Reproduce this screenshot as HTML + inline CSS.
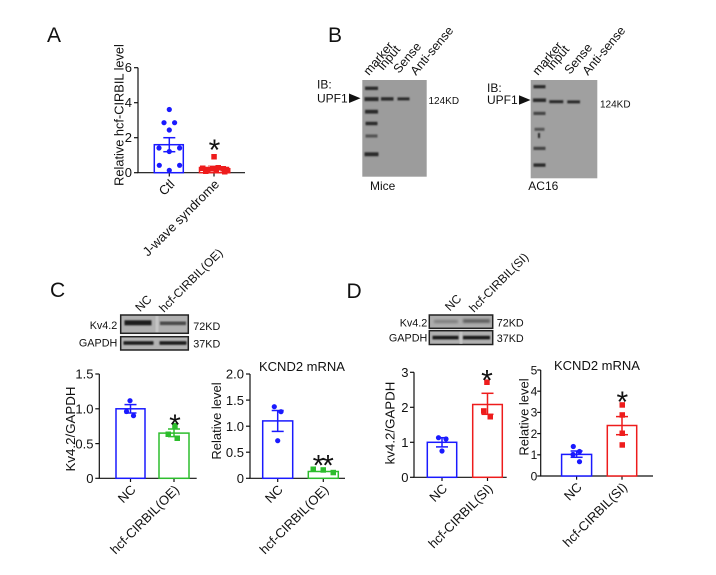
<!DOCTYPE html>
<html><head><meta charset="utf-8"><style>
html,body{margin:0;padding:0;background:#fff;}
svg{display:block;}
text{font-family:"Liberation Sans",Arial,sans-serif;fill:#111;}
</style></head><body>
<svg width="716" height="575" viewBox="0 0 716 575" xmlns="http://www.w3.org/2000/svg">
<defs>
<filter id="bl" x="-30%" y="-100%" width="160%" height="300%"><feGaussianBlur stdDeviation="0.9"/></filter>
<filter id="bl2" x="-30%" y="-100%" width="160%" height="300%"><feGaussianBlur stdDeviation="1.3"/></filter>
</defs>
<rect width="716" height="575" fill="#fff"/>

<!-- Panel letters -->
<text x="47" y="42" font-size="21">A</text>
<text x="328" y="42" font-size="21">B</text>
<text x="50" y="297" font-size="21">C</text>
<text x="346.5" y="298" font-size="21">D</text>

<!-- ============ Panel A ============ -->
<g stroke="#111" stroke-width="1.2" fill="none">
  <line x1="138" y1="67.7" x2="138" y2="172.7"/>
  <line x1="137.4" y1="172.7" x2="245" y2="172.7"/>
  <line x1="134" y1="67.7" x2="138" y2="67.7"/>
  <line x1="134" y1="102.7" x2="138" y2="102.7"/>
  <line x1="134" y1="137.7" x2="138" y2="137.7"/>
  <line x1="134" y1="172.7" x2="138" y2="172.7"/>
  <line x1="169.3" y1="172.7" x2="169.3" y2="176.5"/>
  <line x1="214" y1="172.7" x2="214" y2="176.5"/>
</g>
<g font-size="13" text-anchor="end">
  <text x="132" y="72.2">6</text>
  <text x="132" y="107.2">4</text>
  <text x="132" y="142.2">2</text>
  <text x="132" y="177.2">0</text>
</g>
<text transform="translate(123.5,115) rotate(-90)" font-size="12.8" text-anchor="middle">Relative hcf-CIRBIL level</text>
<rect x="154.3" y="144.7" width="29" height="28" fill="#fff" stroke="#1a1aff" stroke-width="1.5"/>
<g stroke="#1a1aff" stroke-width="1.5">
  <line x1="169.3" y1="137.7" x2="169.3" y2="151.7"/>
  <line x1="163.3" y1="137.7" x2="175.3" y2="137.7"/>
  <line x1="163.3" y1="151.7" x2="175.3" y2="151.7"/>
</g>
<g fill="#1a1aff">
  <circle cx="169.3" cy="109.5" r="2.6"/>
  <circle cx="164" cy="122.7" r="2.6"/>
  <circle cx="174.6" cy="122.7" r="2.6"/>
  <circle cx="169.3" cy="130" r="2.6"/>
  <circle cx="159" cy="148" r="2.6"/>
  <circle cx="179.6" cy="148" r="2.6"/>
  <circle cx="169.3" cy="151.5" r="2.6"/>
  <circle cx="159.3" cy="165.3" r="2.6"/>
  <circle cx="179.6" cy="165.3" r="2.6"/>
  <circle cx="169.3" cy="170.3" r="2.6"/>
</g>
<rect x="199.5" y="167.5" width="29" height="5.2" fill="#fff" stroke="#ee1c1c" stroke-width="1.5"/>
<g stroke="#f08080" stroke-width="1.3">
  <line x1="208" y1="166" x2="220" y2="166"/>
</g>
<g fill="#ee1c1c">
  <rect x="211.3" y="154" width="5.5" height="5.5"/>
  <rect x="200" y="165.5" width="5.5" height="5.5"/>
  <rect x="205" y="167" width="5.5" height="5.5"/>
  <rect x="210" y="166" width="5.5" height="5.5"/>
  <rect x="215.5" y="165" width="5.5" height="5.5"/>
  <rect x="220.5" y="166" width="5.5" height="5.5"/>
  <rect x="225" y="168" width="5.5" height="5.5"/>
  <rect x="203" y="168.5" width="5.5" height="5.5"/>
  <rect x="213.5" y="168" width="5.5" height="5.5"/>
  <rect x="222" y="169" width="5.5" height="5.5"/>
</g>
<text x="214.5" y="160" font-size="30" text-anchor="middle">*</text>
<g font-size="13" text-anchor="end">
  <text transform="translate(175.3,185) rotate(-45)">Ctl</text>
  <text transform="translate(220,185) rotate(-45)">J-wave syndrome</text>
</g>

<!-- ============ Panel B ============ -->
<!-- Gel 1 -->
<rect x="362.3" y="80" width="64.4" height="96.7" fill="#9c9c9c"/>
<g fill="#2a2a2a" filter="url(#bl)">
  <rect x="365" y="86.6" width="13" height="3.4"/>
  <rect x="364.5" y="97.1" width="14" height="4"/>
  <rect x="365" y="109.8" width="13" height="3.8"/>
  <rect x="365.5" y="121.8" width="12" height="3.4"/>
  <rect x="365.5" y="134.4" width="12" height="3.2" fill="#555"/>
  <rect x="364.5" y="152.3" width="14" height="3.9"/>
  <rect x="381" y="97.2" width="12.5" height="3.4"/>
  <rect x="397.5" y="97.4" width="12" height="3"/>
</g>
<g font-size="12.5">
  <text transform="translate(369,76) rotate(-50)">marker</text>
  <text transform="translate(383,71) rotate(-50)">Input</text>
  <text transform="translate(399,74) rotate(-50)">Sense</text>
  <text transform="translate(416,76) rotate(-50)">Anti-sense</text>
</g>
<text x="317" y="88.5" font-size="12">IB:</text>
<text x="317" y="102.5" font-size="12">UPF1</text>
<polygon points="349,93.5 349,103 360.5,98.3" fill="#111"/>
<text x="428.5" y="104" font-size="10">124KD</text>
<text x="370" y="190" font-size="12">Mice</text>

<!-- Gel 2 -->
<rect x="530.7" y="80" width="66.6" height="98.3" fill="#a0a0a0"/>
<g fill="#2a2a2a" filter="url(#bl)">
  <rect x="533.5" y="85.1" width="12" height="3.2"/>
  <rect x="533" y="98.4" width="13" height="3.6"/>
  <rect x="533.5" y="111.8" width="12" height="3.2" fill="#444"/>
  <rect x="534.5" y="127.8" width="10" height="3" fill="#555"/>
  <rect x="538" y="133" width="2" height="5" fill="#222"/>
  <rect x="533.5" y="146.8" width="12" height="3.2" fill="#444"/>
  <rect x="533.5" y="163.4" width="12" height="3.4"/>
  <rect x="549.3" y="100.2" width="14" height="3"/>
  <rect x="567.3" y="100.4" width="12.7" height="3"/>
</g>
<g font-size="12.5">
  <text transform="translate(538,76) rotate(-50)">marker</text>
  <text transform="translate(552,71) rotate(-50)">Input</text>
  <text transform="translate(570,75) rotate(-50)">Sense</text>
  <text transform="translate(588,76) rotate(-50)">Anti-sense</text>
</g>
<text x="487" y="92" font-size="12">IB:</text>
<text x="487" y="104" font-size="12">UPF1</text>
<polygon points="519,95.3 519,104.8 530.5,100" fill="#111"/>
<text x="600" y="107.5" font-size="10">124KD</text>
<text x="528.3" y="190" font-size="12">AC16</text>

<!-- ============ Panel C ============ -->
<text transform="translate(146.3,306.3) rotate(-45)" font-size="12" text-anchor="middle">NC</text>
<text transform="translate(164,313) rotate(-45)" font-size="12">hcf-CIRBIL(OE)</text>
<rect x="120.7" y="315" width="67.6" height="18.3" fill="#b0b0b0" stroke="#222" stroke-width="1.5"/>
<rect x="155.5" y="316" width="3" height="16.3" fill="#c4c4c4"/>
<rect x="120.7" y="336.7" width="67.6" height="13.3" fill="#b3b3b3" stroke="#222" stroke-width="1.5"/>
<g filter="url(#bl)">
  <rect x="124.5" y="320.3" width="27" height="5" fill="#1a1a1a"/>
  <rect x="160" y="321.5" width="26" height="3.6" fill="#4a4a4a"/>
  <rect x="123.5" y="341.2" width="30" height="3.6" fill="#1c1c1c"/>
  <rect x="159.5" y="341.2" width="27" height="3.6" fill="#1c1c1c"/>
</g>
<g font-size="10.8">
  <text x="117.3" y="329" text-anchor="end">Kv4.2</text>
  <text x="117.3" y="346.7" text-anchor="end">GAPDH</text>
  <text x="193.3" y="330">72KD</text>
  <text x="193.3" y="347.5">37KD</text>
</g>

<!-- C chart 1 -->
<g stroke="#111" stroke-width="1.2" fill="none">
  <line x1="99.3" y1="374" x2="99.3" y2="478.3"/>
  <line x1="98.7" y1="478.3" x2="196.7" y2="478.3"/>
  <line x1="95.3" y1="374" x2="99.3" y2="374"/>
  <line x1="95.3" y1="408.8" x2="99.3" y2="408.8"/>
  <line x1="95.3" y1="443.6" x2="99.3" y2="443.6"/>
  <line x1="95.3" y1="478.3" x2="99.3" y2="478.3"/>
  <line x1="130.5" y1="478.3" x2="130.5" y2="482"/>
  <line x1="174" y1="478.3" x2="174" y2="482"/>
</g>
<g font-size="13" text-anchor="end">
  <text x="93.5" y="378.7">1.5</text>
  <text x="93.5" y="413.5">1.0</text>
  <text x="93.5" y="448.3">0.5</text>
  <text x="93.5" y="483">0</text>
</g>
<text transform="translate(75,429) rotate(-90)" font-size="13.3" text-anchor="middle">Kv4.2/GAPDH</text>
<rect x="116" y="408.8" width="29" height="69.5" fill="#fff" stroke="#1a1aff" stroke-width="1.5"/>
<g stroke="#1a1aff" stroke-width="1.5">
  <line x1="130.5" y1="404.6" x2="130.5" y2="413"/>
  <line x1="124.5" y1="404.6" x2="136.5" y2="404.6"/>
  <line x1="124.5" y1="413" x2="136.5" y2="413"/>
</g>
<g fill="#1a1aff">
  <circle cx="130" cy="400.7" r="2.6"/>
  <circle cx="126.5" cy="411.5" r="2.6"/>
  <circle cx="133.5" cy="415.7" r="2.6"/>
</g>
<rect x="159" y="433.1" width="30" height="45.2" fill="#fff" stroke="#2dbd2d" stroke-width="1.5"/>
<g stroke="#2dbd2d" stroke-width="1.5">
  <line x1="174" y1="429" x2="174" y2="436.6"/>
  <line x1="168" y1="429" x2="180" y2="429"/>
  <line x1="168" y1="436.6" x2="180" y2="436.6"/>
</g>
<g fill="#2dbd2d">
  <rect x="172.2" y="423" width="5.5" height="5.5"/>
  <rect x="165.5" y="431.5" width="5.5" height="5.5"/>
  <rect x="174.5" y="435.5" width="5.5" height="5.5"/>
</g>
<text x="175" y="435" font-size="30" text-anchor="middle">*</text>
<g font-size="13" text-anchor="end">
  <text transform="translate(136.5,490.5) rotate(-45)">NC</text>
  <text transform="translate(180,490.5) rotate(-45)">hcf-CIRBIL(OE)</text>
</g>

<!-- C chart 2 -->
<text x="259" y="371" font-size="13">KCND2 mRNA</text>
<g stroke="#111" stroke-width="1.2" fill="none">
  <line x1="250" y1="374" x2="250" y2="478.3"/>
  <line x1="249.4" y1="478.3" x2="345" y2="478.3"/>
  <line x1="246" y1="374" x2="250" y2="374"/>
  <line x1="246" y1="400.1" x2="250" y2="400.1"/>
  <line x1="246" y1="426.2" x2="250" y2="426.2"/>
  <line x1="246" y1="452.2" x2="250" y2="452.2"/>
  <line x1="246" y1="478.3" x2="250" y2="478.3"/>
  <line x1="277.7" y1="478.3" x2="277.7" y2="482"/>
  <line x1="323.3" y1="478.3" x2="323.3" y2="482"/>
</g>
<g font-size="13" text-anchor="end">
  <text x="244" y="378.7">2.0</text>
  <text x="244" y="404.8">1.5</text>
  <text x="244" y="430.9">1.0</text>
  <text x="244" y="456.9">0.5</text>
  <text x="244" y="483">0</text>
</g>
<text transform="translate(221,421) rotate(-90)" font-size="13" text-anchor="middle">Relative level</text>
<rect x="262.7" y="420.9" width="30" height="57.4" fill="#fff" stroke="#1a1aff" stroke-width="1.5"/>
<g stroke="#1a1aff" stroke-width="1.5">
  <line x1="277.7" y1="410.5" x2="277.7" y2="431.4"/>
  <line x1="271.7" y1="410.5" x2="283.7" y2="410.5"/>
  <line x1="271.7" y1="431.4" x2="283.7" y2="431.4"/>
</g>
<g fill="#1a1aff">
  <circle cx="274.3" cy="406.7" r="2.6"/>
  <circle cx="281" cy="411.7" r="2.6"/>
  <circle cx="277.7" cy="440.7" r="2.6"/>
</g>
<rect x="308.3" y="471.5" width="30" height="6.8" fill="#fff" stroke="#2dbd2d" stroke-width="1.5"/>
<g fill="#2dbd2d">
  <rect x="310.5" y="466.5" width="5.5" height="5.5"/>
  <rect x="320.5" y="467.2" width="5.5" height="5.5"/>
  <rect x="330.5" y="469.8" width="5.5" height="5.5"/>
</g>
<text x="318.5" y="475.5" font-size="30" text-anchor="middle">*</text>
<text x="328" y="475.5" font-size="30" text-anchor="middle">*</text>
<g font-size="13" text-anchor="end">
  <text transform="translate(283.7,490.5) rotate(-45)">NC</text>
  <text transform="translate(329.3,490.5) rotate(-45)">hcf-CIRBIL(OE)</text>
</g>

<!-- ============ Panel D ============ -->
<text transform="translate(456,305.5) rotate(-45)" font-size="12" text-anchor="middle">NC</text>
<text transform="translate(474,313) rotate(-45)" font-size="12">hcf-CIRBIL(SI)</text>
<rect x="429.3" y="315" width="63.4" height="13.3" fill="#adadad" stroke="#222" stroke-width="1.5"/>
<rect x="429.3" y="330.7" width="63.4" height="13.8" fill="#b0b0b0" stroke="#222" stroke-width="1.5"/>
<rect x="459.5" y="331.5" width="3" height="12.3" fill="#c2c2c2"/>
<g filter="url(#bl2)">
  <rect x="434" y="320" width="24" height="3" fill="#7a7a7a"/>
  <rect x="463" y="319.3" width="27" height="3.4" fill="#555"/>
</g>
<g filter="url(#bl)">
  <rect x="432.5" y="335.8" width="26" height="3.6" fill="#1c1c1c"/>
  <rect x="463" y="335.8" width="27" height="3.6" fill="#1c1c1c"/>
</g>
<g font-size="10.8">
  <text x="427.3" y="326.5" text-anchor="end">Kv4.2</text>
  <text x="427.3" y="341.5" text-anchor="end">GAPDH</text>
  <text x="496.7" y="326.5">72KD</text>
  <text x="496.7" y="342">37KD</text>
</g>

<!-- D chart 1 -->
<g stroke="#111" stroke-width="1.2" fill="none">
  <line x1="414" y1="372.3" x2="414" y2="477.3"/>
  <line x1="413.4" y1="477.3" x2="506.7" y2="477.3"/>
  <line x1="410" y1="372.3" x2="414" y2="372.3"/>
  <line x1="410" y1="407.3" x2="414" y2="407.3"/>
  <line x1="410" y1="442.3" x2="414" y2="442.3"/>
  <line x1="410" y1="477.3" x2="414" y2="477.3"/>
  <line x1="442" y1="477.3" x2="442" y2="481"/>
  <line x1="487.5" y1="477.3" x2="487.5" y2="481"/>
</g>
<g font-size="13" text-anchor="end">
  <text x="408.5" y="377">3</text>
  <text x="408.5" y="412">2</text>
  <text x="408.5" y="447">1</text>
  <text x="408.5" y="482">0</text>
</g>
<text transform="translate(394.5,423) rotate(-90)" font-size="13.3" text-anchor="middle">kv4.2/GAPDH</text>
<rect x="427.3" y="442.3" width="29.4" height="35" fill="#fff" stroke="#1a1aff" stroke-width="1.5"/>
<g stroke="#1a1aff" stroke-width="1.5">
  <line x1="442" y1="437.7" x2="442" y2="446.9"/>
  <line x1="436" y1="437.7" x2="448" y2="437.7"/>
  <line x1="436" y1="446.9" x2="448" y2="446.9"/>
</g>
<g fill="#1a1aff">
  <circle cx="438.5" cy="437.7" r="2.6"/>
  <circle cx="446" cy="439" r="2.6"/>
  <circle cx="442" cy="451" r="2.6"/>
</g>
<rect x="472.7" y="404.5" width="29.6" height="72.8" fill="#fff" stroke="#ee1c1c" stroke-width="1.5"/>
<g stroke="#ee1c1c" stroke-width="1.5">
  <line x1="487.5" y1="393.3" x2="487.5" y2="414.3"/>
  <line x1="481.5" y1="393.3" x2="493.5" y2="393.3"/>
  <line x1="481.5" y1="414.3" x2="493.5" y2="414.3"/>
</g>
<g fill="#ee1c1c">
  <rect x="484.2" y="379.5" width="5.5" height="5.5"/>
  <rect x="481" y="408.2" width="5.5" height="5.5"/>
  <rect x="487.5" y="414" width="5.5" height="5.5"/>
</g>
<text x="487" y="390.5" font-size="30" text-anchor="middle">*</text>
<g font-size="13" text-anchor="end">
  <text transform="translate(448,489.3) rotate(-45)">NC</text>
  <text transform="translate(493.5,489.3) rotate(-45)">hcf-CIRBIL(SI)</text>
</g>

<!-- D chart 2 -->
<text x="554" y="370" font-size="13">KCND2 mRNA</text>
<g stroke="#111" stroke-width="1.2" fill="none">
  <line x1="540.7" y1="370" x2="540.7" y2="476"/>
  <line x1="540.1" y1="476" x2="653" y2="476"/>
  <line x1="537.2" y1="370" x2="540.7" y2="370"/>
  <line x1="537.2" y1="391.2" x2="540.7" y2="391.2"/>
  <line x1="537.2" y1="412.4" x2="540.7" y2="412.4"/>
  <line x1="537.2" y1="433.6" x2="540.7" y2="433.6"/>
  <line x1="537.2" y1="454.8" x2="540.7" y2="454.8"/>
  <line x1="537.2" y1="476" x2="540.7" y2="476"/>
  <line x1="576.6" y1="476" x2="576.6" y2="479.7"/>
  <line x1="622" y1="476" x2="622" y2="479.7"/>
</g>
<g font-size="12" text-anchor="end">
  <text x="537.3" y="374.3">5</text>
  <text x="537.3" y="395.5">4</text>
  <text x="537.3" y="416.7">3</text>
  <text x="537.3" y="437.9">2</text>
  <text x="537.3" y="459.1">1</text>
  <text x="537.3" y="480.3">0</text>
</g>
<text transform="translate(528.5,417) rotate(-90)" font-size="13" text-anchor="middle">Relative level</text>
<rect x="561.6" y="454.4" width="30" height="21.6" fill="#fff" stroke="#1a1aff" stroke-width="1.5"/>
<g stroke="#1a1aff" stroke-width="1.5">
  <line x1="576.6" y1="451" x2="576.6" y2="457.3"/>
  <line x1="570.6" y1="451" x2="582.6" y2="451"/>
  <line x1="570.6" y1="457.3" x2="582.6" y2="457.3"/>
</g>
<g fill="#1a1aff">
  <circle cx="573.3" cy="446.5" r="2.6"/>
  <circle cx="579.5" cy="451.5" r="2.6"/>
  <circle cx="573" cy="454.5" r="2.6"/>
  <circle cx="579.5" cy="461.7" r="2.6"/>
</g>
<rect x="607.3" y="425.5" width="29.4" height="50.5" fill="#fff" stroke="#ee1c1c" stroke-width="1.5"/>
<g stroke="#ee1c1c" stroke-width="1.5">
  <line x1="622" y1="416.6" x2="622" y2="434.7"/>
  <line x1="616" y1="416.6" x2="628" y2="416.6"/>
  <line x1="616" y1="434.7" x2="628" y2="434.7"/>
</g>
<g fill="#ee1c1c">
  <rect x="619.5" y="402.2" width="5.5" height="5.5"/>
  <rect x="619.5" y="412.2" width="5.5" height="5.5"/>
  <rect x="619.5" y="430.5" width="5.5" height="5.5"/>
  <rect x="619.5" y="442.2" width="5.5" height="5.5"/>
</g>
<text x="622.3" y="412" font-size="30" text-anchor="middle">*</text>
<g font-size="13" text-anchor="end">
  <text transform="translate(582.6,488) rotate(-45)">NC</text>
  <text transform="translate(628,488) rotate(-45)">hcf-CIRBIL(SI)</text>
</g>
</svg>
</body></html>
